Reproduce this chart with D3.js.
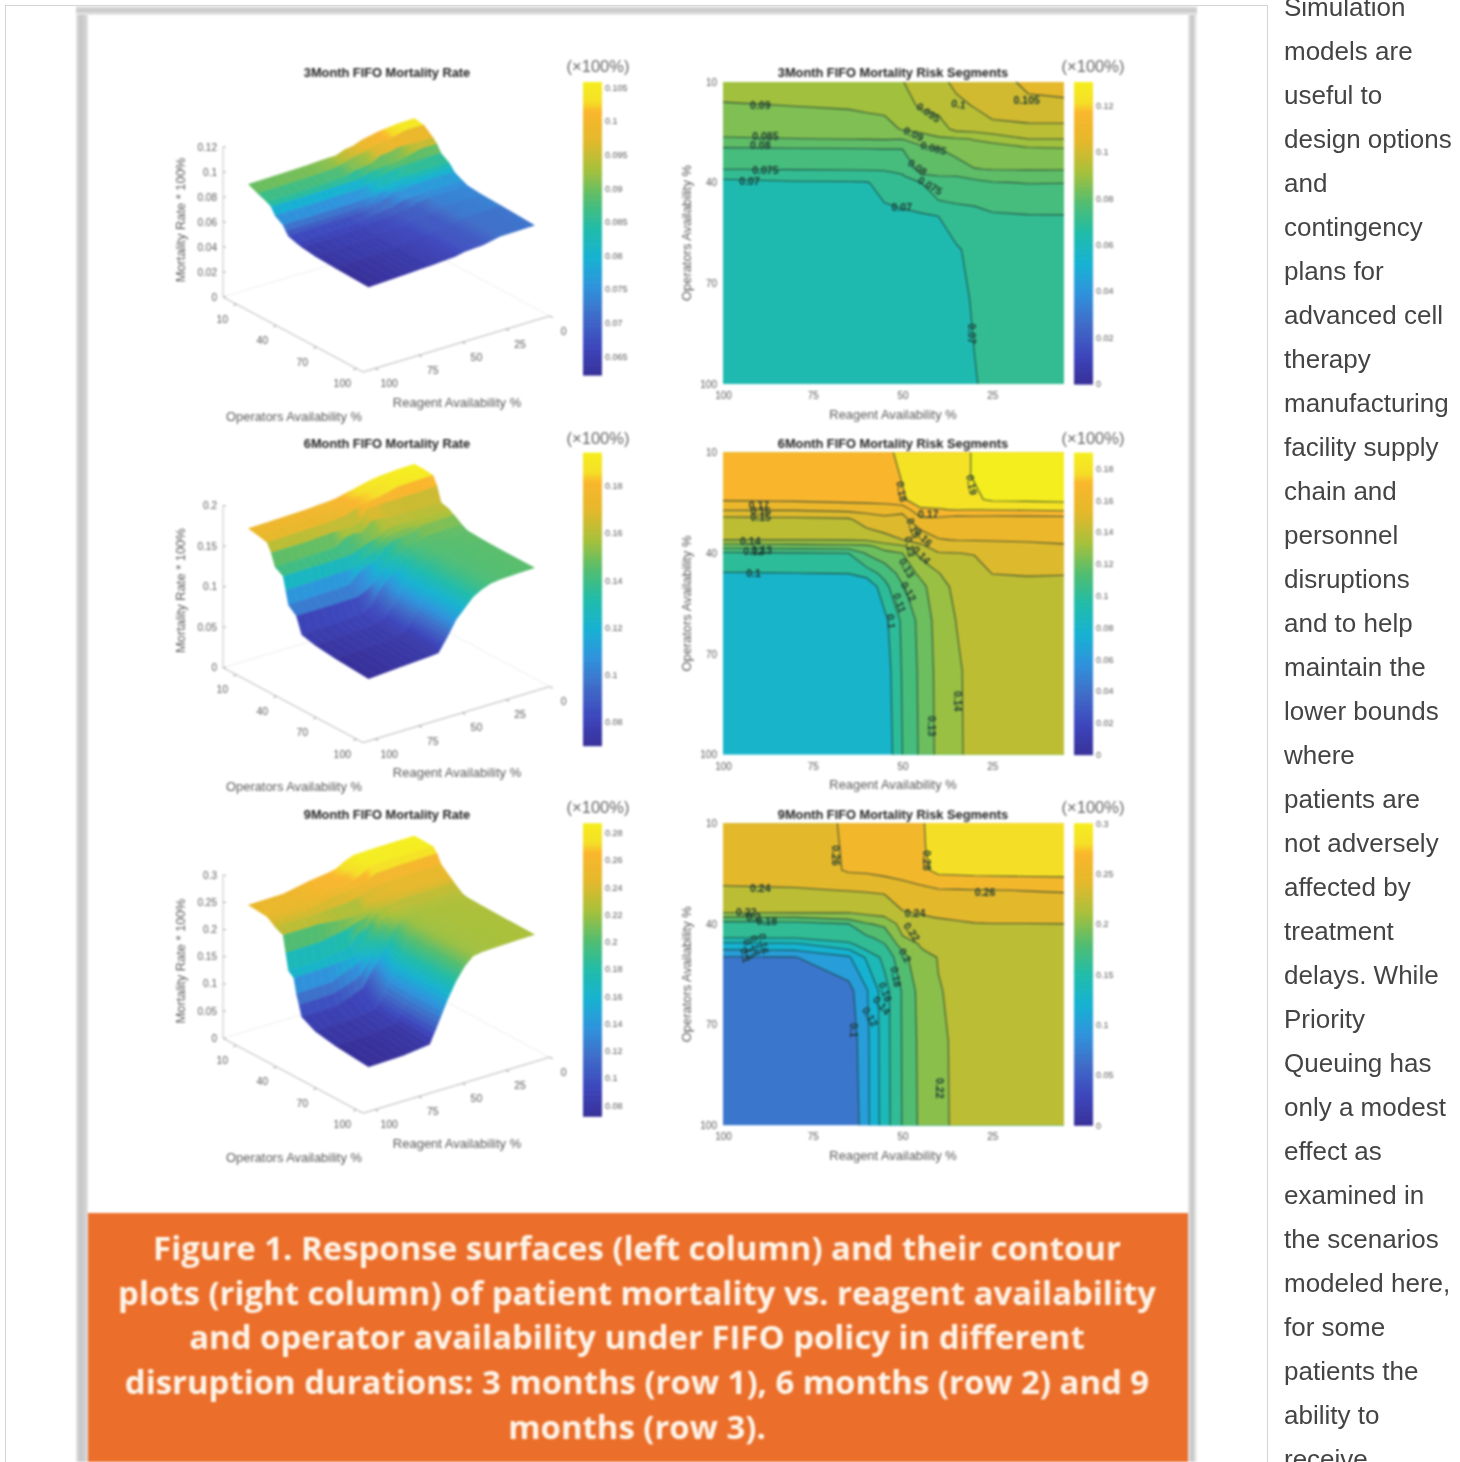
<!DOCTYPE html>
<html><head><meta charset="utf-8">
<script src="https://cdn.jsdelivr.net/npm/d3@7/dist/d3.min.js"></script>
<style>
html,body{margin:0;padding:0;background:#fff;overflow:hidden;width:1460px;height:1462px}
#root{position:relative;width:1460px;height:1462px;overflow:hidden}
svg{position:absolute;left:0;top:0}
#fig{filter:blur(0.9px)}
#side{filter:blur(0.35px)}
text{font-family:"Liberation Sans",Arial,sans-serif}
</style></head><body><div id="root"><svg id="side" width="1460" height="1462"></svg><svg id="fig" width="1460" height="1462"></svg></div>
<script>
// ---------- data ----------
const REAGENT = [100,80,65,60,55,50,45,40,35,30,25,15,5];
const OPS_3 = [10,17,24,27,30,36,38,40,46,50,60,75,100];
const OPS_6 = OPS_3;
const OPS_9 = [10,17,24,27,30,36,38,40,44,46,48,50,60,75,100];

// one array per reagent level, values along the operators list
const MORTALITY_3 = [
[.093,.0895,.0865,.0846,.0792,.075,.0715,.0685,.0665,.0655,.064,.0632,.0622],
[.0935,.0901,.087,.0849,.0795,.0752,.0718,.0695,.0672,.066,.065,.0645,.0635],
[.094,.0905,.0875,.0851,.0797,.0754,.072,.0696,.0675,.0665,.0655,.065,.0645],
[.0945,.091,.0878,.0852,.0798,.0755,.0722,.0697,.068,.067,.066,.0655,.065],
[.0947,.0915,.088,.0853,.08,.0757,.0725,.0715,.07,.068,.0665,.066,.0655],
[.0948,.0935,.0905,.0851,.08,.0765,.0745,.0732,.0712,.0685,.0672,.0665,.066],
[.0975,.0955,.0915,.0875,.0835,.0812,.0795,.0748,.0715,.0695,.0685,.068,.0675],
[.0985,.0968,.0925,.0893,.0848,.0825,.08,.0785,.0745,.07,.0688,.0685,.068],
[.1012,.0988,.0965,.0895,.0865,.083,.0801,.0775,.0752,.0725,.0695,.0685,.0683],
[.1025,.1003,.097,.0902,.0885,.0848,.0808,.0793,.0755,.0735,.0712,.0705,.0697],
[.104,.1015,.099,.091,.0885,.0852,.0825,.0797,.0762,.0745,.073,.0722,.0712],
[.1055,.1045,.0985,.095,.089,.0853,.083,.0802,.0765,.0748,.0735,.0728,.0715],
[.1058,.1046,.0985,.095,.0895,.0853,.0828,.0801,.0768,.0748,.0738,.0732,.0718]];
const MORTALITY_6 = [
[.176,.174,.171,.161,.146,.14,.124,.108,.0995,.08,.076,.073,.07],
[.177,.175,.172,.161,.147,.1401,.125,.109,.0998,.082,.078,.075,.073],
[.178,.176,.173,.163,.148,.1405,.126,.11,.1003,.084,.08,.077,.075],
[.179,.177,.174,.1625,.156,.1415,.127,.121,.105,.09,.084,.08,.076],
[.1795,.178,.175,.163,.158,.146,.134,.127,.113,.107,.097,.094,.092],
[.1805,.1803,.1795,.1625,.1565,.15,.138,.13,.124,.119,.112,.111,.11],
[.183,.183,.182,.1795,.167,.153,.148,.143,.132,.127,.123,.122,.1215],
[.1855,.1855,.184,.1795,.167,.1595,.154,.1495,.1395,.136,.134,.133,.1325],
[.188,.188,.186,.1805,.164,.1603,.155,.1498,.146,.1425,.1402,.1385,.1385],
[.1905,.1905,.1885,.1802,.1645,.1605,.1555,.1505,.1455,.1445,.1435,.143,.1425],
[.192,.1915,.1915,.1805,.164,.1605,.1575,.156,.1502,.1455,.1445,.144,.144],
[.1935,.1935,.192,.181,.164,.1607,.1585,.157,.151,.1465,.1455,.145,.145],
[.194,.194,.1925,.182,.1645,.1615,.159,.1575,.1505,.147,.146,.1455,.1455]];
const MORTALITY_9 = [
[.2515,.25,.2485,.243,.2375,.23,.2,.17,.162,.135,.117,.098,.085,.078,.072],
[.2525,.251,.2495,.244,.2385,.2305,.201,.172,.163,.137,.119,.099,.087,.08,.074],
[.262,.2618,.2615,.255,.2405,.2255,.21,.18,.168,.157,.136,.117,.093,.086,.08],
[.264,.2635,.2625,.255,.2415,.226,.2165,.1985,.177,.168,.1595,.143,.118,.115,.1145],
[.266,.2655,.264,.2575,.2435,.2255,.2195,.2045,.187,.1795,.172,.166,.1515,.151,.1505],
[.2695,.269,.267,.26,.25,.24,.235,.228,.219,.21,.2,.193,.182,.1815,.181],
[.2785,.278,.2755,.265,.2545,.2415,.239,.234,.2255,.2215,.2185,.215,.207,.205,.204],
[.285,.285,.2845,.274,.258,.2435,.2405,.237,.231,.2265,.2245,.2205,.2195,.2185,.2185],
[.2855,.2855,.285,.2745,.2585,.2445,.2415,.2385,.229,.2255,.2235,.2225,.2215,.2212,.221],
[.286,.286,.2855,.2755,.259,.2455,.243,.2395,.23,.2265,.2245,.2235,.2225,.222,.222],
[.2865,.286,.2855,.276,.2595,.2465,.2435,.2398,.231,.2275,.2255,.2245,.2235,.223,.2225],
[.2868,.2865,.2858,.2765,.2605,.248,.244,.2398,.232,.2285,.2265,.2255,.2245,.224,.2235],
[.287,.2868,.286,.277,.2615,.2485,.2445,.24,.2325,.229,.227,.2262,.2252,.2245,.224]];

const LEVELS_3 = [.07,.075,.08,.085,.09,.095,.1,.105];
const LEVELS_6 = [.1,.11,.12,.13,.14,.15,.16,.17,.18,.19];
const LEVELS_9 = [.1,.12,.14,.16,.18,.2,.22,.24,.26,.28];
const LOWEST_FILL = [.0625,.08,.068];

// [level, reagent, operators, rotation]
const LABELS_3 = [[.09,89.6,16.9,0],[.085,88.2,26.3,0],[.08,89.6,28.8,0],[.075,88.2,36.2,0],[.07,92.6,39.6,0],
[.095,42.8,19.1,35],[.09,46.9,25.5,25],[.085,41.4,29.7,15],[.08,45.8,35.4,35],[.075,42.3,40.9,30],[.07,50.2,47.3,0],
[.1,34.4,16.6,10],[.105,15.4,15.4,0],[.07,30.7,85,90]];
const LABELS_6 = [[.17,90,25.6,0],[.16,89.5,27.4,0],[.15,89.5,29.3,0],[.14,92.4,36.5,0],[.13,89.2,39,0],[.12,91.5,39.3,0],[.1,91.5,46,0],
[.18,50.2,21.6,80],[.19,30.7,19.6,80],[.17,42.8,28.3,0],[.16,44.2,35.3,45],[.15,47,32.5,70],[.14,44.7,40.5,45],[.13,47.9,38,80],
[.13,48.8,44.4,60],[.12,48.3,51.4,60],[.11,50.8,54.8,70],[.1,53.2,60.3,85],[.14,34.7,84.1,90],[.13,41.8,91.5,90]];
const LABELS_9 = [[.24,89.6,29.3,0],[.22,93.5,36.5,0],[.2,91.5,38,0],[.18,87.8,39.3,0],
[.16,88.7,45.9,80],[.14,91,46.4,80],[.12,92.9,47.6,80],[.1,93.8,49.4,80],
[.26,68.7,19.6,90],[.28,43.2,21.1,90],[.26,27,30.5,0],[.24,46.5,37,0],[.22,47.4,42.4,55],[.2,49.3,49.4,60],
[.18,51.8,55.8,80],[.16,54.8,60.3,70],[.14,55.8,64.3,50],[.12,59,67.7,60],[.1,63.6,71.7,90],[.22,39.5,89,90]];

const DURATIONS = ["3Month","6Month","9Month"];
const Z_TICKS = [[0,.02,.04,.06,.08,.1,.12],[0,.05,.1,.15,.2],[0,.05,.1,.15,.2,.25,.3]];
const SURF_BAR_TICKS = [[.065,.07,.075,.08,.085,.09,.095,.1,.105],[.08,.1,.12,.14,.16,.18],[.08,.1,.12,.14,.16,.18,.2,.22,.24,.26,.28]];
const CONT_BAR_TOP = [.13,.19,.3];
const CONT_BAR_TICKS = [[0,.02,.04,.06,.08,.1,.12],[0,.02,.04,.06,.08,.1,.12,.14,.16,.18],[0,.05,.1,.15,.2,.25,.3]];
const OP_TICKS = [10,40,70,100];
const RE_TICKS_3D = [100,75,50,25,0];
const RE_TICKS_2D = [100,75,50,25];

const CAPTION = ["Figure 1. Response surfaces (left column) and their contour",
"plots (right column) of patient mortality vs. reagent availability",
"and operator availability under FIFO policy in different",
"disruption durations: 3 months (row 1), 6 months (row 2) and 9",
"months (row 3)."];
const SIDE_TEXT = ["Simulation","models are","useful to","design options","and","contingency","plans for","advanced cell","therapy","manufacturing","facility supply","chain and","personnel","disruptions","and to help","maintain the","lower bounds","where","patients are","not adversely","affected by","treatment","delays. While","Priority","Queuing has","only a modest","effect as","examined in","the scenarios","modeled here,","for some","patients the","ability to","receive"];

// ---------- style ----------
const STOP_AT = [0,.1,.2,.3,.4,.5,.6,.7,.8,.9,.93,1];
const STOPS = ["#38309a","#3d47bd","#3f6cc8","#2f93dc","#16b2d2","#20bca8","#52bd70","#a6c03a","#e4b82b","#fab62c","#f5de26","#f5ee1e"];
const cmap = d3.scaleLinear().domain(STOP_AT).range(STOPS).clamp(true);
const TXT = "#5a5a5a";
const TABLES = [MORTALITY_3,MORTALITY_6,MORTALITY_9];
const OPSETS = [OPS_3,OPS_6,OPS_9];
const LEVELSETS = [LEVELS_3,LEVELS_6,LEVELS_9];
const LABELSETS = [LABELS_3,LABELS_6,LABELS_9];
const ROW_STEP = 370.6;
const SUB = 4;

const side = d3.select("#side");
const fig = d3.select("#fig");

// ---------- page frame ----------
side.append("rect").attr("x",5.5).attr("y",5.5).attr("width",1262).attr("height",1470).attr("fill","#fff").attr("stroke","#d4d4d4");
side.selectAll("text.s").data(SIDE_TEXT).join("text").attr("class","s")
  .attr("x",1284).attr("y",(d,i)=>15.5+i*44).attr("font-size",26).attr("fill","#444").text(d=>d);

const defs = fig.append("defs");
function grad(id,vertical,stops){
  const g = defs.append("linearGradient").attr("id",id).attr("x1",0).attr("y1",0).attr("x2",vertical?0:1).attr("y2",vertical?1:0);
  stops.forEach(s=>g.append("stop").attr("offset",s[0]).attr("stop-color",s[1]));
}
grad("shL",false,[[0,"#e6e6e6"],[.3,"#c6c6c6"],[.75,"#cfcfcf"],[1,"#e6e6e6"]]);
grad("shR",false,[[0,"#ececec"],[.45,"#c0c0c0"],[1,"#f6f6f6"]]);
grad("shT",true,[[0,"#e6e6e6"],[.5,"#c6c6c6"],[1,"#ececec"]]);
fig.append("rect").attr("x",76).attr("y",6).attr("width",12).attr("height",1456).attr("fill","url(#shL)");
fig.append("rect").attr("x",1188).attr("y",6).attr("width",9).attr("height",1456).attr("fill","url(#shR)");
fig.append("rect").attr("x",76).attr("y",6).attr("width",1121).attr("height",9).attr("fill","url(#shT)");
fig.append("rect").attr("x",88).attr("y",15).attr("width",1100).attr("height",1200).attr("fill","#fff");
fig.append("rect").attr("x",88).attr("y",1213).attr("width",1100).attr("height",249).attr("fill","#eb6e2a");
fig.selectAll("text.c").data(CAPTION).join("text").attr("class","c")
  .attr("x",637).attr("y",(d,i)=>1260+i*44.7).attr("text-anchor","middle")
  .attr("font-size",32.9).attr("font-weight",700).attr("fill","#fdf4e8")
  .style("font-family","'Open Sans',sans-serif").text(d=>d);

const fmt = v => String(+v.toFixed(4));

function colorbar(g,x,y0,y1,domain,ticks,unitX,unitY){
  const s = d3.scaleLinear().domain(domain).range([y1,y0]);
  const n = 120, h=(y1-y0)/n;
  g.append("g").selectAll("rect").data(d3.range(n)).join("rect")
    .attr("x",x).attr("width",19).attr("y",i=>y0+i*h).attr("height",h+.6)
    .attr("fill",i=>cmap(1-(i+.5)/n));
  const ax = g.append("g").attr("transform",`translate(${x+19},0)`)
    .call(d3.axisRight(s).tickValues(ticks).tickSize(0).tickPadding(3).tickFormat(fmt));
  ax.select(".domain").remove();
  ax.selectAll("text").attr("font-size",9).attr("fill",TXT).style("font-family","'Liberation Sans',sans-serif");
  g.append("text").attr("x",unitX).attr("y",unitY).attr("text-anchor","middle").attr("font-size",16.5).attr("fill","#666")
   .text("(\u00d7100%)");
}

DURATIONS.forEach((dur,row)=>{
  const dy = row*ROW_STEP;
  const table = TABLES[row], ops = OPSETS[row], levels = LEVELSETS[row];
  const n = REAGENT.length, m = ops.length;
  const flatAll = d3.merge(table);
  const ext = d3.extent(flatAll);

  // ---------- 3D surface ----------
  const g3 = fig.append("g");
  const L = {x:223, y:297+dy};
  const opX = d3.scaleLinear().domain([0,105]).range([0,140]);
  const opY = d3.scaleLinear().domain([0,105]).range([0,75]);
  const reX = d3.scaleLinear().domain([107,0]).range([0,186.7]);
  const reY = d3.scaleLinear().domain([107,0]).range([0,-56]);
  const zTop = Z_TICKS[row][Z_TICKS[row].length-1];
  const zS = d3.scaleLinear().domain([0,zTop]).range([0,[150,162,163][row]]);
  const P = (op,re,z)=>[L.x+opX(op)+reX(re), L.y+opY(op)+reY(re)-zS(z)];
  const base = (a,b,c)=>g3.append("path").attr("d",d3.line()([a,b])).attr("stroke",c).attr("fill","none");
  base(P(0,107,0),P(105,107,0),"#b5b5b5");
  base(P(105,107,0),P(105,0,0),"#b5b5b5");
  base(P(0,107,0),P(0,0,0),"#eeeeee");
  base(P(0,0,0),P(105,0,0),"#eeeeee");
  base(P(0,107,0),P(0,107,zTop),"#c4c4c4");
  OP_TICKS.forEach(o=>{ const p=P(o,107,0);
    base(p,[p[0]-3,p[1]+1.5],"#999");
    g3.append("text").attr("x",p[0]-14).attr("y",p[1]+15).attr("dy","0.35em").attr("text-anchor","middle").attr("font-size",10.5).attr("fill",TXT).text(o);
  });
  RE_TICKS_3D.forEach(r=>{ const p=P(105,r,0);
    base(p,[p[0]+3,p[1]+1.5],"#999");
    g3.append("text").attr("x",p[0]+14).attr("y",p[1]+15).attr("dy","0.35em").attr("text-anchor","middle").attr("font-size",10.5).attr("fill",TXT).text(r);
  });
  Z_TICKS[row].forEach(t=>{ const p=P(0,107,t);
    base(p,[p[0]+3,p[1]],"#aaa");
    g3.append("text").attr("x",p[0]-6).attr("y",p[1]).attr("dy","0.35em").attr("text-anchor","end").attr("font-size",10).attr("fill",TXT).text(fmt(t));
  });
  const tS = d3.scaleLinear().domain(ext).range([0,1]);
  const line = d3.line();
  const quads = [];
  for(let j=0;j<m-1;j++) for(let i=n-2;i>=0;i--) for(let k=SUB-1;k>=0;k--){
    const a=k/SUB,b=(k+1)/SUB, re=t=>REAGENT[i]+(REAGENT[i+1]-REAGENT[i])*t;
    const at=(jj,t)=>table[i][jj]+(table[i+1][jj]-table[i][jj])*t;
    const v=[at(j,a),at(j,b),at(j+1,b),at(j+1,a)];
    const pts=[P(ops[j],re(a),v[0]),P(ops[j],re(b),v[1]),P(ops[j+1],re(b),v[2]),P(ops[j+1],re(a),v[3])];
    // each facet takes the colour of its front edge, so a cliff shares the colour of the shelf below it
    quads.push({pts,c:cmap(tS((v[2]+v[3])/2))});
  }
  g3.append("g").selectAll("path").data(quads).join("path")
    .attr("d",d=>line(d.pts)+"Z").attr("fill",d=>d.c).attr("stroke",d=>d.c).attr("stroke-width",.6);
  g3.append("text").attr("x",387).attr("y",73+dy).attr("dy","0.35em").attr("text-anchor","middle").attr("font-size",12.8).attr("font-weight",700).attr("fill","#222").text(`${dur} FIFO Mortality Rate`);
  g3.append("text").attr("x",294).attr("y",416+dy).attr("dy","0.35em").attr("text-anchor","middle").attr("font-size",12.9).attr("fill",TXT).text("Operators Availability %");
  g3.append("text").attr("x",457).attr("y",402+dy).attr("dy","0.35em").attr("text-anchor","middle").attr("font-size",13).attr("fill",TXT).text("Reagent Availability %");
  g3.append("text").attr("transform",`translate(180,${220+dy}) rotate(-90)`).attr("dy","0.35em").attr("text-anchor","middle").attr("font-size",12.9).attr("fill",TXT).text("Mortality Rate * 100%");
  colorbar(g3,583,82+dy,375+dy,ext,SURF_BAR_TICKS[row],598,72+dy+[0,1.4,0][row]);

  // ---------- contour ----------
  const g2 = fig.append("g");
  const X = d3.scaleLinear().domain([100,5]).range([723,1064]);
  const Y = d3.scaleLinear().domain([10,100]).range([82+dy,384+dy]);
  const xIdx = d3.scaleLinear().domain(d3.range(n)).range(REAGENT.map(X)).clamp(true);
  const yIdx = d3.scaleLinear().domain(d3.range(m)).range(ops.map(Y)).clamp(true);
  const toPx = (cx,cy)=>[xIdx(cx-.5),yIdx(cy-.5)];
  const flat = [];
  for(let j=0;j<m;j++) for(let i=0;i<n;i++) flat.push(table[i][j]);
  const contours = d3.contours().size([n,m]).thresholds(levels)(flat);
  const barTop = CONT_BAR_TOP[row];
  const cT = d3.scaleLinear().domain([0,barTop]).range([0,1]);
  const proj = d3.geoTransform({point(x,y){const p=toPx(x,y);this.stream.point(p[0],p[1]);}});
  const gp = d3.geoPath(proj);
  g2.append("rect").attr("x",X(100)).attr("y",Y(10)).attr("width",X(5)-X(100)).attr("height",Y(100)-Y(10)).attr("fill",cmap(cT(LOWEST_FILL[row])));
  g2.append("g").selectAll("path").data(contours).join("path").attr("d",gp).attr("fill",d=>cmap(cT(d.value)));
  // contour lines: rings without the parts lying on the plot border
  const ctx = d3.path();
  const [xa,xb]=[X(100),X(5)],[ya,yb]=[Y(10),Y(100)];
  const onEdge=(a,b)=>(a[0]===xa&&b[0]===xa)||(a[0]===xb&&b[0]===xb)||(a[1]===ya&&b[1]===ya)||(a[1]===yb&&b[1]===yb);
  contours.forEach(c=>c.coordinates.forEach(poly=>poly.forEach(ring=>{
    let pen=false, prev=null;
    ring.forEach(q=>{
      const p=toPx(q[0],q[1]);
      if(prev&&!onEdge(prev,p)){ if(!pen){ctx.moveTo(prev[0],prev[1]);pen=true;} ctx.lineTo(p[0],p[1]); } else pen=false;
      prev=p;
    });
  })));
  g2.append("path").attr("d",ctx.toString()).attr("fill","none").attr("stroke","#1c3b34").attr("stroke-opacity",.78).attr("stroke-width",1.1);
  g2.append("g").selectAll("text").data(LABELSETS[row]).join("text")
    .attr("transform",d=>`translate(${X(d[1])},${Y(d[2])}) rotate(${d[3]})`)
    .attr("dy","0.35em").attr("text-anchor","middle").attr("font-size",10.5).attr("font-weight",700).attr("fill","#1b3a33")
    .text(d=>fmt(d[0]));
  const xAx = g2.append("g").attr("transform",`translate(0,${384+dy})`)
    .call(d3.axisBottom(X).tickValues(RE_TICKS_2D).tickSize(0).tickPadding(8));
  const yAx = g2.append("g").attr("transform",`translate(723,0)`)
    .call(d3.axisLeft(Y).tickValues(OP_TICKS).tickSize(0).tickPadding(6));
  [xAx,yAx].forEach(a=>{a.select(".domain").remove();a.selectAll("text").attr("font-size",10).attr("fill",TXT).style("font-family","'Liberation Sans',sans-serif");});
  g2.append("text").attr("x",893).attr("y",73+dy).attr("dy","0.35em").attr("text-anchor","middle").attr("font-size",12.8).attr("font-weight",700).attr("fill","#222").text(`${dur} FIFO Mortality Risk Segments`);
  g2.append("text").attr("x",893).attr("y",414+dy).attr("dy","0.35em").attr("text-anchor","middle").attr("font-size",12.9).attr("fill",TXT).text("Reagent Availability %");
  g2.append("text").attr("transform",`translate(686,${233+dy}) rotate(-90)`).attr("dy","0.35em").attr("text-anchor","middle").attr("font-size",12.9).attr("fill",TXT).text("Operators Availability %");
  colorbar(g2,1074,82+dy,384+dy,[0,barTop],CONT_BAR_TICKS[row],1093,72+dy+[0,1.4,0][row]);
});
</script></body></html>
